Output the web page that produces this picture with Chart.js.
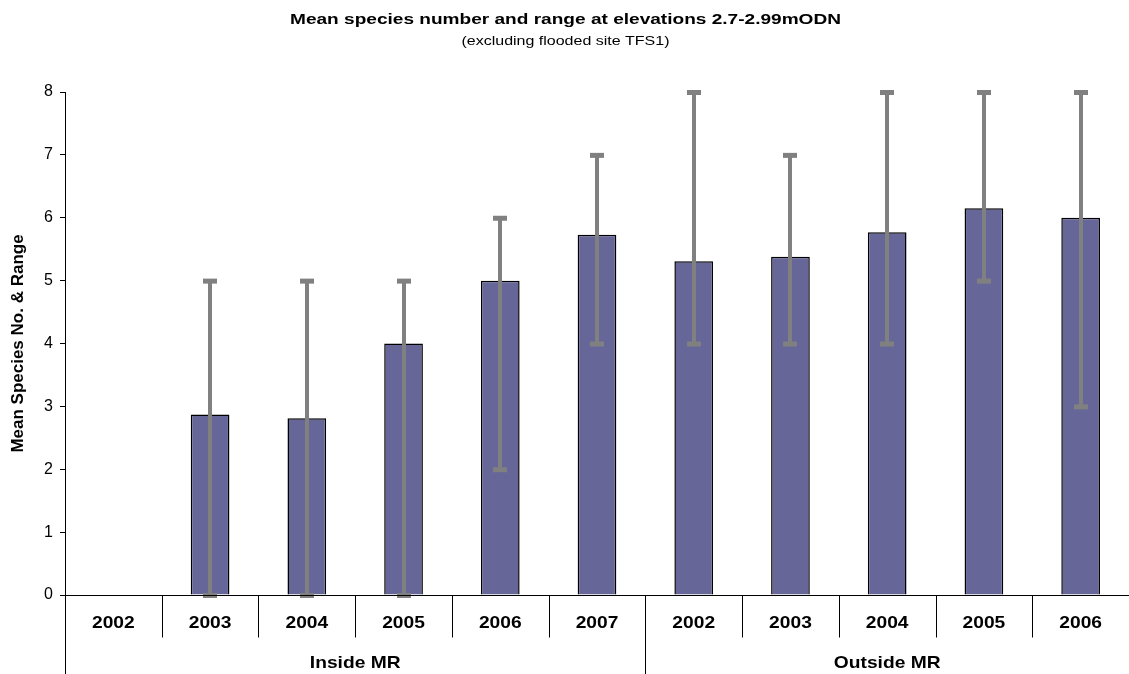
<!DOCTYPE html>
<html>
<head>
<meta charset="utf-8">
<script src="https://cdn.jsdelivr.net/npm/chart.js@4/dist/chart.umd.min.js"></script>
<style>
  html, body { margin: 0; padding: 0; background: #fff; }
</style>
</head>
<body>
<canvas id="speciesChart" width="1129" height="674"></canvas>
<script>
// Chart data
const years = ['2002', '2003', '2004', '2005', '2006', '2007', '2002', '2003', '2004', '2005', '2006'];
const groups = ['Inside MR', 'Outside MR'];
const groupSizes = [6, 5];
const meanSpecies = [null, 2.87, 2.81, 4.0, 5.0, 5.73, 5.31, 5.38, 5.77, 6.15, 6.0];
const rangeMin = [null, 0, 0, 0, 2, 4, 4, 4, 4, 5, 3];
const rangeMax = [null, 5, 5, 5, 6, 7, 8, 7, 8, 8, 8];
const yMin = 0;
const yMax = 8;
const yStep = 1;
const titleText = 'Mean species number and range at elevations 2.7-2.99mODN';
const subtitleText = '(excluding flooded site TFS1)';

const fontFamily = 'Arial, "Liberation Sans", sans-serif';

// the original renders its text a bit wider than Arial, so stretch it
function wideText(ctx, text, cx, cy, font, sx) {
    ctx.save();
    ctx.font = font;
    ctx.textAlign = 'center';
    ctx.textBaseline = 'middle';
    ctx.translate(cx, cy);
    ctx.scale(sx, 1);
    ctx.fillText(text, 0, 0);
    ctx.restore();
}

// Range (min-max) whiskers drawn through the scales
const rangeBars = {
    id: 'rangeBars',
    afterDatasetsDraw(chart) {
        const { ctx, scales: { x, y } } = chart;
        ctx.save();
        ctx.strokeStyle = '#808080';
        ctx.fillStyle = '#808080';
        ctx.lineWidth = 4;
        rangeMin.forEach((lo, i) => {
            if (lo == null) return;
            const px = Math.round(x.getPixelForValue(i));
            const top = y.getPixelForValue(rangeMax[i]);
            const bot = y.getPixelForValue(lo);
            ctx.beginPath();
            ctx.moveTo(px, top);
            ctx.lineTo(px, bot);
            ctx.stroke();
            ctx.fillRect(px - 7, top - 2, 14, 5);
            ctx.fillRect(px - 7, bot - 2, 14, 5);
        });
        ctx.restore();
    }
};

// Titles + two-level category axis (years, then site group)
const groupedAxis = {
    id: 'groupedAxis',
    afterDraw(chart) {
        const { ctx, chartArea, scales: { x, y } } = chart;
        const base = Math.round(y.getPixelForValue(0)) + 0.5;
        const cat = x.width / years.length;
        const h = chart.height;
        const mid = chart.width / 2;
        ctx.save();
        ctx.fillStyle = '#000';
        wideText(ctx, titleText, mid + 1, 19.5, 'bold 15.5px ' + fontFamily, 1.23);
        wideText(ctx, subtitleText, mid + 1, 41, '13px ' + fontFamily, 1.23);

        ctx.strokeStyle = '#000';
        ctx.lineWidth = 1;
        ctx.beginPath();
        ctx.moveTo(chartArea.left, base);
        ctx.lineTo(chartArea.right, base);
        ctx.stroke();

        // separators
        const groupEdges = [0];
        groupSizes.forEach(n => groupEdges.push(groupEdges[groupEdges.length - 1] + n));
        for (let i = 0; i <= years.length; i++) {
            const px = Math.round(x.getPixelForValue(i) - cat / 2) + 0.5;
            const long = groupEdges.includes(i);
            ctx.beginPath();
            ctx.moveTo(px, base);
            ctx.lineTo(px, long ? h : base + 42);
            ctx.stroke();
        }

        years.forEach((yr, i) => {
            wideText(ctx, yr, x.getPixelForValue(i), base + 28, 'bold 17px ' + fontFamily, 1.13);
        });
        let start = 0;
        groups.forEach((g, gi) => {
            const end = start + groupSizes[gi] - 1;
            const cx = (x.getPixelForValue(start) + x.getPixelForValue(end)) / 2;
            wideText(ctx, g, cx, base + 68, 'bold 17px ' + fontFamily, 1.13);
            start = end + 1;
        });
        ctx.restore();
    }
};

const ctx = document.getElementById('speciesChart');
new Chart(ctx, {
    type: 'bar',
    data: {
        labels: years,
        datasets: [{
            label: 'Mean species number',
            data: meanSpecies,
            backgroundColor: '#666699',
            borderColor: '#000',
            borderWidth: 1.5,
            barPercentage: 0.4,
            categoryPercentage: 1.0
        }]
    },
    options: {
        responsive: false,
        animation: false,
        devicePixelRatio: 1,
        layout: {
            padding: { left: 0, right: 0, top: 92, bottom: 79 }
        },
        plugins: {
            legend: { display: false },
            tooltip: { enabled: false }
        },
        scales: {
            x: {
                display: false
            },
            y: {
                min: yMin,
                max: yMax,
                afterFit(scale) { scale.width = 65; },
                ticks: {
                    stepSize: yStep,
                    color: '#000',
                    padding: 7,
                    font: { family: fontFamily, size: 16 }
                },
                grid: {
                    drawOnChartArea: false,
                    color: '#000',
                    tickLength: 5
                },
                border: { color: '#000', width: 1 },
                title: {
                    display: true,
                    text: 'Mean Species No. & Range',
                    color: '#000',
                    font: { family: fontFamily, size: 17, weight: 'bold' },
                    padding: { top: 8, bottom: 0 }
                }
            }
        }
    },
    plugins: [rangeBars, groupedAxis]
});
</script>
</body>
</html>
